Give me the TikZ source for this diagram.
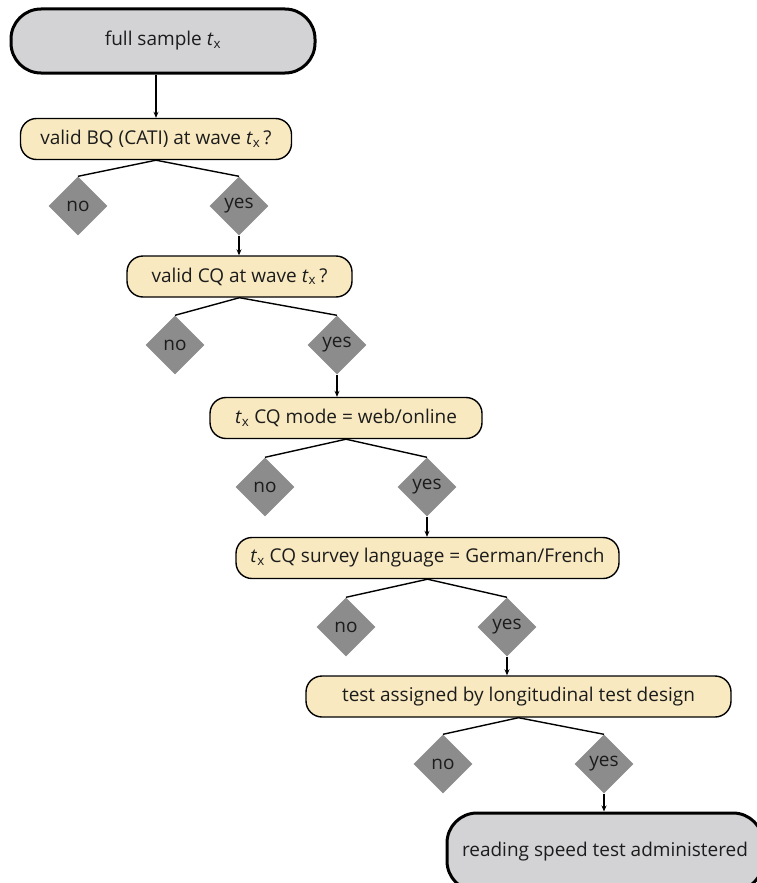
\documentclass[tikz,border=0pt]{standalone}
\usepackage{fontspec}
\setmainfont{Open Sans}
\usetikzlibrary{shapes.geometric, arrows.meta, positioning}
\definecolor{termgray}{RGB}{211,211,214}
\definecolor{askyellow}{RGB}{248,233,192}
\definecolor{ansgray}{RGB}{140,140,140}
\definecolor{ink}{RGB}{28,28,28}
\newcommand{\tx}{\textit{t}\textsubscript{x}}
\tikzset{
  term/.style={draw, line width=3pt, fill=termgray, rounded corners=30pt, inner sep=0pt, text=ink},
  ask/.style={draw, line width=1.4pt, fill=askyellow, rounded corners=16pt, minimum height=41pt, inner sep=0pt, text=ink},
  ans/.style={diamond, fill=ansgray, minimum width=59pt, minimum height=59pt, inner sep=0pt, text=ink},
  flow/.style={line width=1.4pt, -{Stealth[length=6pt,width=5pt]}},
  split/.style={line width=1.4pt}
}

\begin{document}
\begin{tikzpicture}[x=1pt, y=-1pt, font=\fontsize{19}{22}\selectfont]
  \useasboundingbox (0,0) rectangle (757,883);
  \clip (0,0) rectangle (757,883);
  % start and end
  \node[term, minimum width=304pt, minimum height=64pt] (start) at (163,41) {full sample \tx};
  \node[term, minimum width=316pt, minimum height=78pt] (finish) at (605,852) {reading speed test administered};
  % questions
  \node[ask, minimum width=271pt] (q1) at (156,139) {valid BQ (CATI) at wave \tx\,?};
  \node[ask, minimum width=225pt] (q2) at (239.5,276.5) {valid CQ at wave \tx\,?};
  \node[ask, minimum width=272pt] (q3) at (346,418) {\tx\ CQ mode = web/online};
  \node[ask, minimum width=383pt] (q4) at (427.5,558) {\tx\ CQ survey language = German/French};
  \node[ask, minimum width=425pt] (q5) at (518.5,696.5) {test assigned by longitudinal test design};
  % answers
  \foreach \i/\nx/\yx/\ay in {1/78/239/206, 2/175/337/345, 3/265/427/487, 4/346/507/627, 5/443/604/764}{
    \node[ans] (no\i) at (\nx,\ay) {no};
    \node[ans] (yes\i) at (\yx,\ay) {yes};
    \draw[split] (no\i.north) -- (q\i.south) -- (yes\i.north);
  };
  \draw[flow] (q1.north |- start.south) -- (q1.north);
  \foreach \i/\j in {1/2, 2/3, 3/4, 4/5}{
    \draw[flow] (yes\i.south) -- (yes\i.south |- q\j.north);
  };
  \draw[flow] (yes5.south) -- (yes5.south |- finish.north);
\end{tikzpicture}
\end{document}
